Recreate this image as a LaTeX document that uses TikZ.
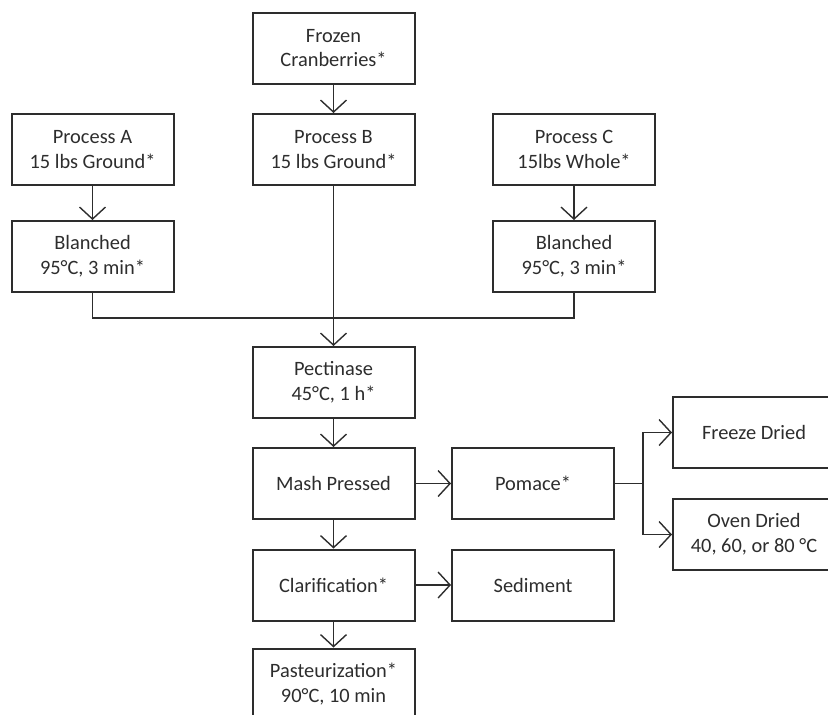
\documentclass[tikz,border=0pt]{standalone}
\usepackage{fontspec}
\setmainfont{Carlito}
\usepackage{tikz}
\usetikzlibrary{arrows.meta, positioning}
\definecolor{ink}{RGB}{45,45,45}

\begin{document}
\begin{tikzpicture}[x=0.5pt, y=-0.5pt,
    box/.style={draw=ink, line width=1pt, text=ink, align=center,
      minimum width=81pt, minimum height=35.5pt, inner sep=2pt,
      font=\fontsize{10.2}{12.4}\selectfont},
    link/.style={draw=ink, line width=0.7pt},
    arr/.style={link, -{Straight Barb[length=6pt, width=13pt]}}]
  \path[use as bounding box, clip] (0,0) rectangle (828,714);
  % sources
  \node[box] (frozen) at (333.5,48) {Frozen\\Cranberries*};
  \node[box] (procA) at (92.5,149.5) {Process A\\15 lbs Ground*};
  \node[box] (procB) at (333.5,149.5) {Process B\\15 lbs Ground*};
  \node[box] (procC) at (574,149.5) {Process C\\15lbs Whole*};
  \node[box] (blanchA) at (92.5,256.5) {Blanched\\95°C, 3 min*};
  \node[box] (blanchC) at (574,256.5) {Blanched\\95°C, 3 min*};
  % juice line
  \node[box] (pect) at (333.5,382.5) {Pectinase\\45°C, 1 h*};
  \node[box] (mash) at (333.5,483.5) {Mash Pressed};
  \node[box] (pomace) at (533,483.5) {Pomace*};
  \node[box] (freeze) at (754,432.5) {Freeze Dried};
  \node[box] (oven) at (754,534.5) {Oven Dried\\40, 60, or 80 °C};
  \node[box] (clar) at (333.5,585) {Clarification*};
  \node[box] (sed) at (533,585) {Sediment};
  \node[box] (past) at (333.5,684) {Pasteurization*\\90°C, 10 min};
  \coordinate (join) at (333.5,318);
  \coordinate (split) at (643,483.5);

  \draw[arr] (frozen) -- (procB);
  \draw[arr] (procA) -- (blanchA);
  \draw[arr] (procC) -- (blanchC);
  \draw[link] (blanchA.south) |- (join) -| (blanchC.south);
  \draw[arr] (procB) -- (pect);
  \draw[arr] (pect) -- (mash);
  \draw[arr] (mash) -- (pomace);
  \draw[link] (pomace) -- (split);
  \draw[arr] (split) |- (freeze);
  \draw[arr] (split) |- (oven);
  \draw[arr] (mash) -- (clar);
  \draw[arr] (clar) -- (sed);
  \draw[arr] (clar) -- (past);
\end{tikzpicture}
\end{document}
